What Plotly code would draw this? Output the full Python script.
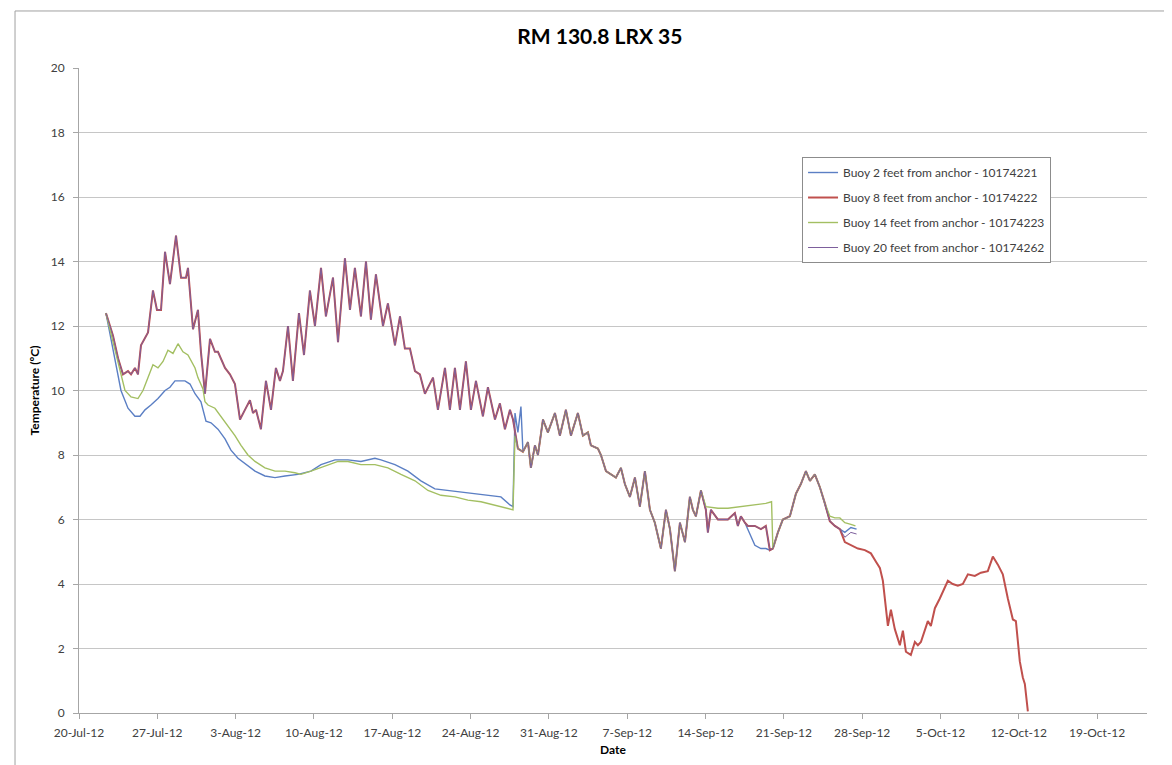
import pandas as pd
import plotly.graph_objects as go

BASE_DATE = "2012-07-20"

# Buoy 8 ft (red) - days since 20-Jul-12, temperature (degC)
red_days = [2.41, 3.04, 3.49, 3.93, 4.38, 4.65, 5.0, 5.27, 5.54, 6.17, 6.61, 6.97, 7.33, 7.69, 8.13, 8.67,
            9.12, 9.56, 9.74, 10.19, 10.63, 10.9, 11.26, 11.71, 12.15, 12.42, 13.05, 13.49, 13.94, 14.39,
            14.83, 15.28, 15.55, 15.82, 16.26, 16.71, 17.16, 17.6, 17.96, 18.23, 18.68, 19.12, 19.66, 20.11,
            20.64, 21.09, 21.63, 22.07, 22.7, 23.15, 23.77, 24.22, 24.66, 25.2, 25.65, 26.09, 26.54, 27.17,
            27.61, 28.24, 28.69, 29.13, 29.58, 30.03, 30.47, 30.92, 31.64, 32.08, 32.71, 33.15, 33.6, 34.05,
            34.58, 35.03, 35.48, 36.1, 36.55, 37.18, 37.62, 38.07, 38.52, 38.79, 39.23, 39.68, 40.13, 40.39,
            40.75, 41.02, 41.47, 41.91, 42.54, 42.98, 43.52, 43.97, 44.59, 45.04, 45.49, 45.75, 46.38, 46.65,
            47.1, 47.54, 47.99, 48.44, 48.79, 49.24, 49.69, 50.13, 50.58, 51.03, 51.47, 52.01, 52.46, 52.82,
            53.26, 53.71, 54.16, 54.6, 54.87, 55.14, 55.59, 56.03, 56.21, 56.48, 57.11, 58.0, 58.62, 58.89,
            59.16, 59.52, 59.79, 60.41, 60.95, 61.39, 61.75, 62.02, 62.47, 62.91, 63.54, 64.08, 64.52, 64.97,
            65.33, 65.77, 66.22, 66.67, 67.11, 67.56, 68.01, 68.45, 68.99, 69.62, 70.24, 70.78, 71.22, 71.58,
            71.85, 72.3, 72.57, 72.92, 73.37, 73.64, 73.91, 74.35, 74.71, 74.98, 75.25, 75.6, 75.87, 76.14,
            76.5, 76.94, 77.39, 77.66, 78.1, 78.55, 79.0, 79.45, 80.07, 80.61, 81.23, 81.68, 82.13, 82.57,
            83.02, 83.47, 83.74, 84.09, 84.36, 84.54, 84.81]
red_temp = [12.4, 11.7, 11.0, 10.5, 10.6, 10.5, 10.7, 10.5, 11.4, 11.8, 13.1, 12.5, 12.5, 14.3, 13.3, 14.8,
            13.5, 13.5, 13.8, 11.9, 12.5, 11.2, 9.9, 11.6, 11.2, 11.2, 10.7, 10.5, 10.2, 9.1,
            9.4, 9.7, 9.3, 9.4, 8.8, 10.3, 9.4, 10.7, 10.3, 10.6, 12.0, 10.3, 12.4, 11.1,
            13.1, 12.0, 13.8, 12.3, 13.5, 11.5, 14.1, 12.5, 13.8, 12.3, 14.0, 12.2, 13.6, 12.0,
            12.7, 11.4, 12.3, 11.3, 11.3, 10.6, 10.5, 9.9, 10.4, 9.4, 10.7, 9.4, 10.7, 9.4,
            10.9, 9.4, 10.3, 9.2, 10.1, 9.1, 9.6, 8.8, 9.4, 9.1, 8.2, 8.1, 8.4, 7.6,
            8.3, 8.0, 9.1, 8.7, 9.3, 8.6, 9.4, 8.6, 9.3, 8.6, 8.7, 8.3, 8.2, 8.0,
            7.5, 7.4, 7.3, 7.6, 7.1, 6.7, 7.3, 6.4, 7.5, 6.3, 5.9, 5.1, 6.3, 5.7,
            4.4, 5.9, 5.3, 6.7, 6.3, 6.1, 6.9, 6.3, 5.6, 6.3, 6.0, 6.0, 6.2, 5.8,
            6.1, 5.9, 5.8, 5.8, 5.7, 5.8, 5.05, 5.1, 5.6, 6.0, 6.1, 6.8, 7.1, 7.5,
            7.2, 7.4, 7.0, 6.5, 5.95, 5.8, 5.7, 5.3, 5.2, 5.1, 5.05, 4.95, 4.7, 4.5,
            4.1, 2.7, 3.2, 2.6, 2.1, 2.55, 1.9, 1.8, 2.2, 2.1, 2.2, 2.55, 2.85, 2.7,
            3.25, 3.55, 3.9, 4.1, 4.0, 3.95, 4.0, 4.3, 4.25, 4.35, 4.4, 4.85, 4.6, 4.3,
            3.55, 2.9, 2.85, 1.6, 1.1, 0.9, 0.05]

# Buoy 2 ft (blue) - own readings
blue_early_days = [2.41, 3.22, 3.75, 4.38, 5.0, 5.45, 5.9, 6.43, 7.06, 7.69, 8.13, 8.58, 9.03, 9.47, 9.92,
                   10.37, 10.9, 11.35, 11.8, 12.42, 13.05, 13.58, 14.21, 14.92, 15.73, 16.62, 17.52, 18.41,
                   19.57, 20.73, 21.63, 22.88, 24.04, 25.2, 26.45, 26.99, 28.24, 29.4, 30.56, 31.81, 32.98,
                   34.14, 35.39, 36.55, 37.71, 38.52, 38.79, 38.97, 39.23, 39.5]
blue_early_temp = [12.4, 10.9, 10.0, 9.45, 9.2, 9.2, 9.4, 9.55, 9.75, 10.0, 10.1, 10.3, 10.3, 10.3, 10.2,
                   9.9, 9.65, 9.05, 9.0, 8.8, 8.5, 8.15, 7.9, 7.7, 7.5, 7.35, 7.3, 7.35,
                   7.4, 7.5, 7.7, 7.85, 7.85, 7.8, 7.9, 7.85, 7.7, 7.5, 7.2, 6.95, 6.9,
                   6.85, 6.8, 6.75, 6.7, 6.45, 6.4, 9.3, 8.7, 9.5]
blue_mid_days = [59.79, 60.41, 60.95, 61.39]
blue_mid_temp = [5.7, 5.2, 5.1, 5.1]
blue_tail_days = [68.45, 68.99, 69.5]
blue_tail_temp = [5.6, 5.75, 5.7]

# Buoy 14 ft (green) - own readings
green_early_days = [2.41, 3.49, 4.11, 4.65, 5.27, 5.72, 6.17, 6.61, 7.06, 7.51, 7.95, 8.4, 8.85, 9.29, 9.74,
                    10.37, 10.63, 11.08, 11.26, 11.53, 12.15, 12.69, 13.32, 13.94, 14.48, 15.1, 15.73, 16.62,
                    17.52, 18.41, 19.3, 19.84, 20.73, 21.98, 23.15, 24.04, 25.2, 26.45, 27.61, 28.78, 30.03,
                    31.19, 32.35, 33.6, 34.76, 35.93, 37.18, 38.34, 38.79, 38.97]
green_early_temp = [12.4, 10.9, 10.0, 9.8, 9.75, 10.0, 10.4, 10.8, 10.7, 10.9, 11.25, 11.15, 11.45, 11.2, 11.1,
                    10.7, 10.4, 10.05, 9.65, 9.55, 9.45, 9.2, 8.9, 8.6, 8.3, 8.0, 7.8, 7.6,
                    7.5, 7.5, 7.45, 7.4, 7.5, 7.65, 7.8, 7.8, 7.7, 7.7, 7.6, 7.4, 7.2,
                    6.9, 6.75, 6.7, 6.6, 6.55, 6.45, 6.35, 6.3, 8.6]
green_mid_days = [56.03, 57.11, 58.0, 59.16, 60.41, 61.39, 61.9]
green_mid_temp = [6.4, 6.35, 6.35, 6.4, 6.45, 6.5, 6.55]
green_tail_days = [67.11, 67.56, 68.01, 68.45, 68.99, 69.4]
green_tail_temp = [6.1, 6.05, 6.05, 5.9, 5.85, 5.8]

# Buoy 20 ft (purple) - tail readings (follows the 8 ft buoy before)
purple_tail_days = [68.45, 68.99, 69.5]
purple_tail_temp = [5.45, 5.6, 5.55]

series_names = ["Buoy 2 feet from anchor - 10174221", "Buoy 8 feet from anchor - 10174222",
                "Buoy 14 feet from anchor - 10174223", "Buoy 20 feet from anchor - 10174262"]
series_colors = ["#5b7fc4", "#C0504D", "#a3bf62", "#7d5f9c"]

x_tick_start = "2012-07-20"
x_range = ["2012-07-20", "2012-10-23 11:00"]


def red_segment(lo, hi):
    d = [a for a in red_days if lo <= a <= hi]
    t = [b for a, b in zip(red_days, red_temp) if lo <= a <= hi]
    return d, t


def to_dates(days):
    return pd.Timestamp(BASE_DATE) + pd.to_timedelta(days, unit="D")


s1d, s1t = red_segment(39.6, 59.6)
s2d, s2t = red_segment(61.7, 68.1)
blue_days = blue_early_days + s1d + blue_mid_days + s2d + blue_tail_days
blue_temp = blue_early_temp + s1t + blue_mid_temp + s2t + blue_tail_temp

g1d, g1t = red_segment(39.2, 55.7)
g2d, g2t = red_segment(62.0, 66.7)
green_days = green_early_days + g1d + green_mid_days + g2d + green_tail_days
green_temp = green_early_temp + g1t + green_mid_temp + g2t + green_tail_temp

p1d, p1t = red_segment(0, 68.1)
purple_days = p1d + purple_tail_days
purple_temp = p1t + purple_tail_temp

FONT = "Lato"
fig = go.Figure()
data = [(blue_days, blue_temp, 1.4), (red_days, red_temp, 2.0),
        (green_days, green_temp, 1.4), (purple_days, purple_temp, 1.0)]
for i, (d, t, w) in enumerate(data):
    fig.add_trace(go.Scatter(x=to_dates(d), y=t, mode="lines", name=series_names[i],
                             line=dict(color=series_colors[i], width=w),
                             legendgroup=str(i)))

fig.update_layout(
    width=1172, height=765,
    paper_bgcolor="white", plot_bgcolor="white",
    margin=dict(l=71, r=33, t=60, b=60),
    font=dict(family=FONT, color="#404040", size=12),
    title=dict(text="<b>RM 130.8 LRX 35</b>", x=0.505, xanchor="center", y=0.963, yanchor="middle",
               font=dict(family=FONT, size=21, color="#000000")),
    showlegend=True,
    legend=dict(x=0.677, y=0.862, xanchor="left", yanchor="top", bordercolor="#8c8c8c", borderwidth=1,
                bgcolor="white", font=dict(family=FONT, size=12, color="#404040"),
                itemwidth=30, tracegroupgap=6),
    xaxis=dict(type="date", range=x_range, tick0=x_tick_start, dtick=7 * 86400000,
               tickformat="%-d-%b-%y", showgrid=False, showline=True, linecolor="#a6a6a6",
               ticks="outside", ticklen=5, tickcolor="#a6a6a6", zeroline=False, ticklabelstandoff=4,
               title=dict(text="<b>Date</b>", font=dict(family=FONT, size=12, color="#000000"), standoff=6),
               tickfont=dict(size=12, color="#404040")),
    yaxis=dict(range=[0, 20], dtick=2, showgrid=True, gridcolor="#c6c6c6", gridwidth=1,
               showline=True, linecolor="#a6a6a6", ticks="outside", ticklen=5, tickcolor="#a6a6a6",
               zeroline=False, ticklabelstandoff=6,
               title=dict(text="<b>Temperature (ºC)</b>", font=dict(family=FONT, size=12, color="#000000"),
                          standoff=8),
               tickfont=dict(size=12, color="#404040")),
)

fig.add_shape(type="rect", xref="paper", yref="paper", x0=-0.0599, x1=1.0243, y0=-0.0868, y1=1.0884,
              line=dict(color="#a0a0a0", width=1), fillcolor="rgba(0,0,0,0)", layer="below")

fig.write_html("out.html")
